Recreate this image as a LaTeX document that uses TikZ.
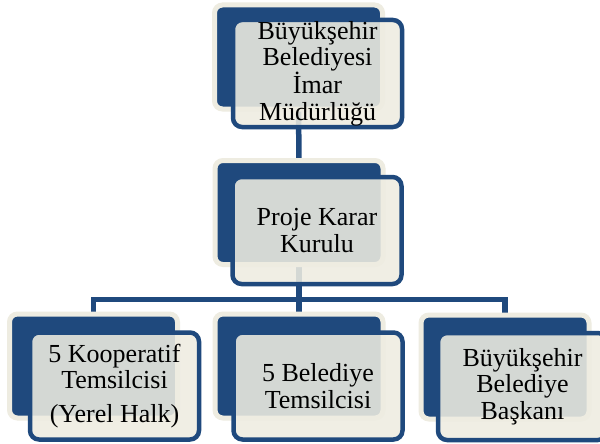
\documentclass[tikz,border=0pt]{standalone}
\usepackage{fontspec}
\usetikzlibrary{backgrounds}
\setmainfont{Liberation Serif}
\definecolor{navy}{HTML}{1F497D}
\definecolor{cream}{HTML}{EEECE1}
\begin{document}
\begin{tikzpicture}[x=1pt,y=-1pt,
  backbox/.style={rectangle,rounded corners=8pt,draw=cream,line width=5pt,fill=navy,
    minimum width=168pt,minimum height=104pt,inner sep=0pt,outer sep=0pt},
  frontbox/.style={rectangle,rounded corners=9pt,draw=navy,line width=4.5pt,fill=cream,
    fill opacity=0.88,text opacity=1,minimum width=169pt,minimum height=107pt,
    inner sep=0pt,outer sep=0pt,align=center,font=\fontsize{26}{26.3}\selectfont},
  link/.style={draw=navy,line width=5.5pt}]
\clip (0,0) rectangle (600,444);
% back plates
\node[backbox] (b1) at (298.5,57) {};
\node[backbox] (b2) at (299,212.5) {};
\node[backbox] (b3) at (93.5,366) {};
\node[backbox] (b4) at (299,366) {};
\node[backbox] (b5) at (505,367) {};
% front cards with labels
\node[frontbox] (f1) at (317.5,73.5) {Büyükşehir\\Belediyesi\\İmar\\Müdürlüğü};
\node[frontbox] (f2) at (317,230.5) {Proje Karar\\Kurulu};
\node[frontbox] (f3) at (114.5,386) {5 Kooperatif\\Temsilcisi\\[8pt](Yerel Halk)};
\node[frontbox] (f4) at (318,386) {5 Belediye\\Temsilcisi};
\node[frontbox] (f5) at (522.5,386.5) {Büyükşehir\\Belediye\\Başkanı};
% connectors, kept behind the plates
\begin{scope}[on background layer]
  \fill[white] (0,0) rectangle (600,444);
  \coordinate (bus) at (0,299.5);
  \draw[link] (b1.south) -- (b2.north);
  \draw[link] (b2.south) -- (b4.north);
  \draw[link] (b3.north) -- (b3.north |- bus) -- (b5.north |- bus) -- (b5.north);
\end{scope}
\end{tikzpicture}
\end{document}
